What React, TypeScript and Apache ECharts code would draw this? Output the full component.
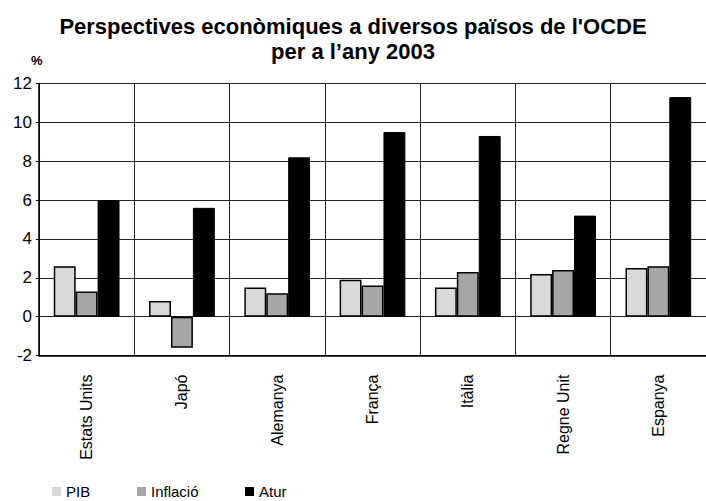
import React, { useEffect, useRef } from "react";
import * as echarts from "echarts";

const categories = ["Estats Units", "Japó", "Alemanya", "França", "Itàlia", "Regne Unit", "Espanya"];
const pib = [2.6, 0.8, 1.5, 1.9, 1.5, 2.2, 2.5];
const inflacio = [1.3, -1.6, 1.2, 1.6, 2.3, 2.4, 2.6];
const atur = [6.0, 5.6, 8.2, 9.5, 9.3, 5.2, 11.3];
const seriesNames = ["PIB", "Inflació", "Atur"];

const FONT = "'Liberation Sans', Arial, Helvetica, sans-serif";

export default function App() {
  const ref = useRef<HTMLDivElement>(null);
  useEffect(() => {
    document.body.style.margin = "0";
    if (!ref.current) return;
    const chart = echarts.init(ref.current, null, { renderer: "svg" });
    const legendBase = {
      top: 482,
      itemWidth: 9,
      itemHeight: 9,
      icon: "rect",
      itemGap: 5,
      padding: 2,
      itemStyle: { borderWidth: 0 },
      textStyle: { fontFamily: FONT, fontSize: 15, color: "#000" },
    };
    chart.setOption({
      animation: false,
      backgroundColor: "#fff",
      textStyle: { fontFamily: FONT },
      title: {
        text: "Perspectives econòmiques a diversos països de l'OCDE\nper a l’any 2003",
        left: "center",
        top: 9,
        textStyle: { fontFamily: FONT, fontSize: 22, fontWeight: "bold", color: "#000", lineHeight: 25 },
      },
      graphic: [
        {
          type: "text",
          left: 31,
          top: 54,
          style: { text: "%", font: `bold 13px ${FONT}`, fill: "#000" },
        },
      ],
      legend: [
        { ...legendBase, left: 50, data: [seriesNames[0]] },
        { ...legendBase, left: 135, data: [seriesNames[1]] },
        { ...legendBase, left: 243, data: [seriesNames[2]] },
      ],
      grid: { left: 39, top: 83.5, width: 672, height: 272, containLabel: false },
      xAxis: {
        type: "category",
        data: categories,
        boundaryGap: true,
        axisLine: { onZero: false, lineStyle: { color: "#000", width: 1.5 } },
        axisTick: { show: false },
        splitLine: { show: true, interval: 0, lineStyle: { color: "#222", width: 1 } },
        axisLabel: {
          interval: 0,
          rotate: 90,
          margin: 19,
          fontSize: 16,
          color: "#000",
          fontFamily: FONT,
        },
      },
      yAxis: {
        type: "value",
        min: -2,
        max: 12,
        interval: 2,
        axisLine: { show: true, lineStyle: { color: "#000", width: 1.5 } },
        axisTick: { show: true, length: 3, lineStyle: { color: "#000" } },
        splitLine: { show: true, lineStyle: { color: "#222", width: 1 } },
        axisLabel: { fontSize: 17, color: "#000", margin: 7, fontFamily: FONT },
      },
      series: [
        {
          name: seriesNames[0],
          type: "bar",
          data: pib,
          barGap: "0%",
          barCategoryGap: "31%",
          itemStyle: { color: "#d9d9d9", borderColor: "#000", borderWidth: 1.5 },
        },
        {
          name: seriesNames[1],
          type: "bar",
          data: inflacio,
          barGap: "0%",
          barCategoryGap: "31%",
          itemStyle: { color: "#a6a6a6", borderColor: "#000", borderWidth: 1.5 },
        },
        {
          name: seriesNames[2],
          type: "bar",
          data: atur,
          barGap: "0%",
          barCategoryGap: "31%",
          itemStyle: { color: "#000", borderColor: "#000", borderWidth: 1 },
        },
      ],
    });
    return () => chart.dispose();
  }, []);
  return <div ref={ref} style={{ width: 706, height: 501 }} />;
}
